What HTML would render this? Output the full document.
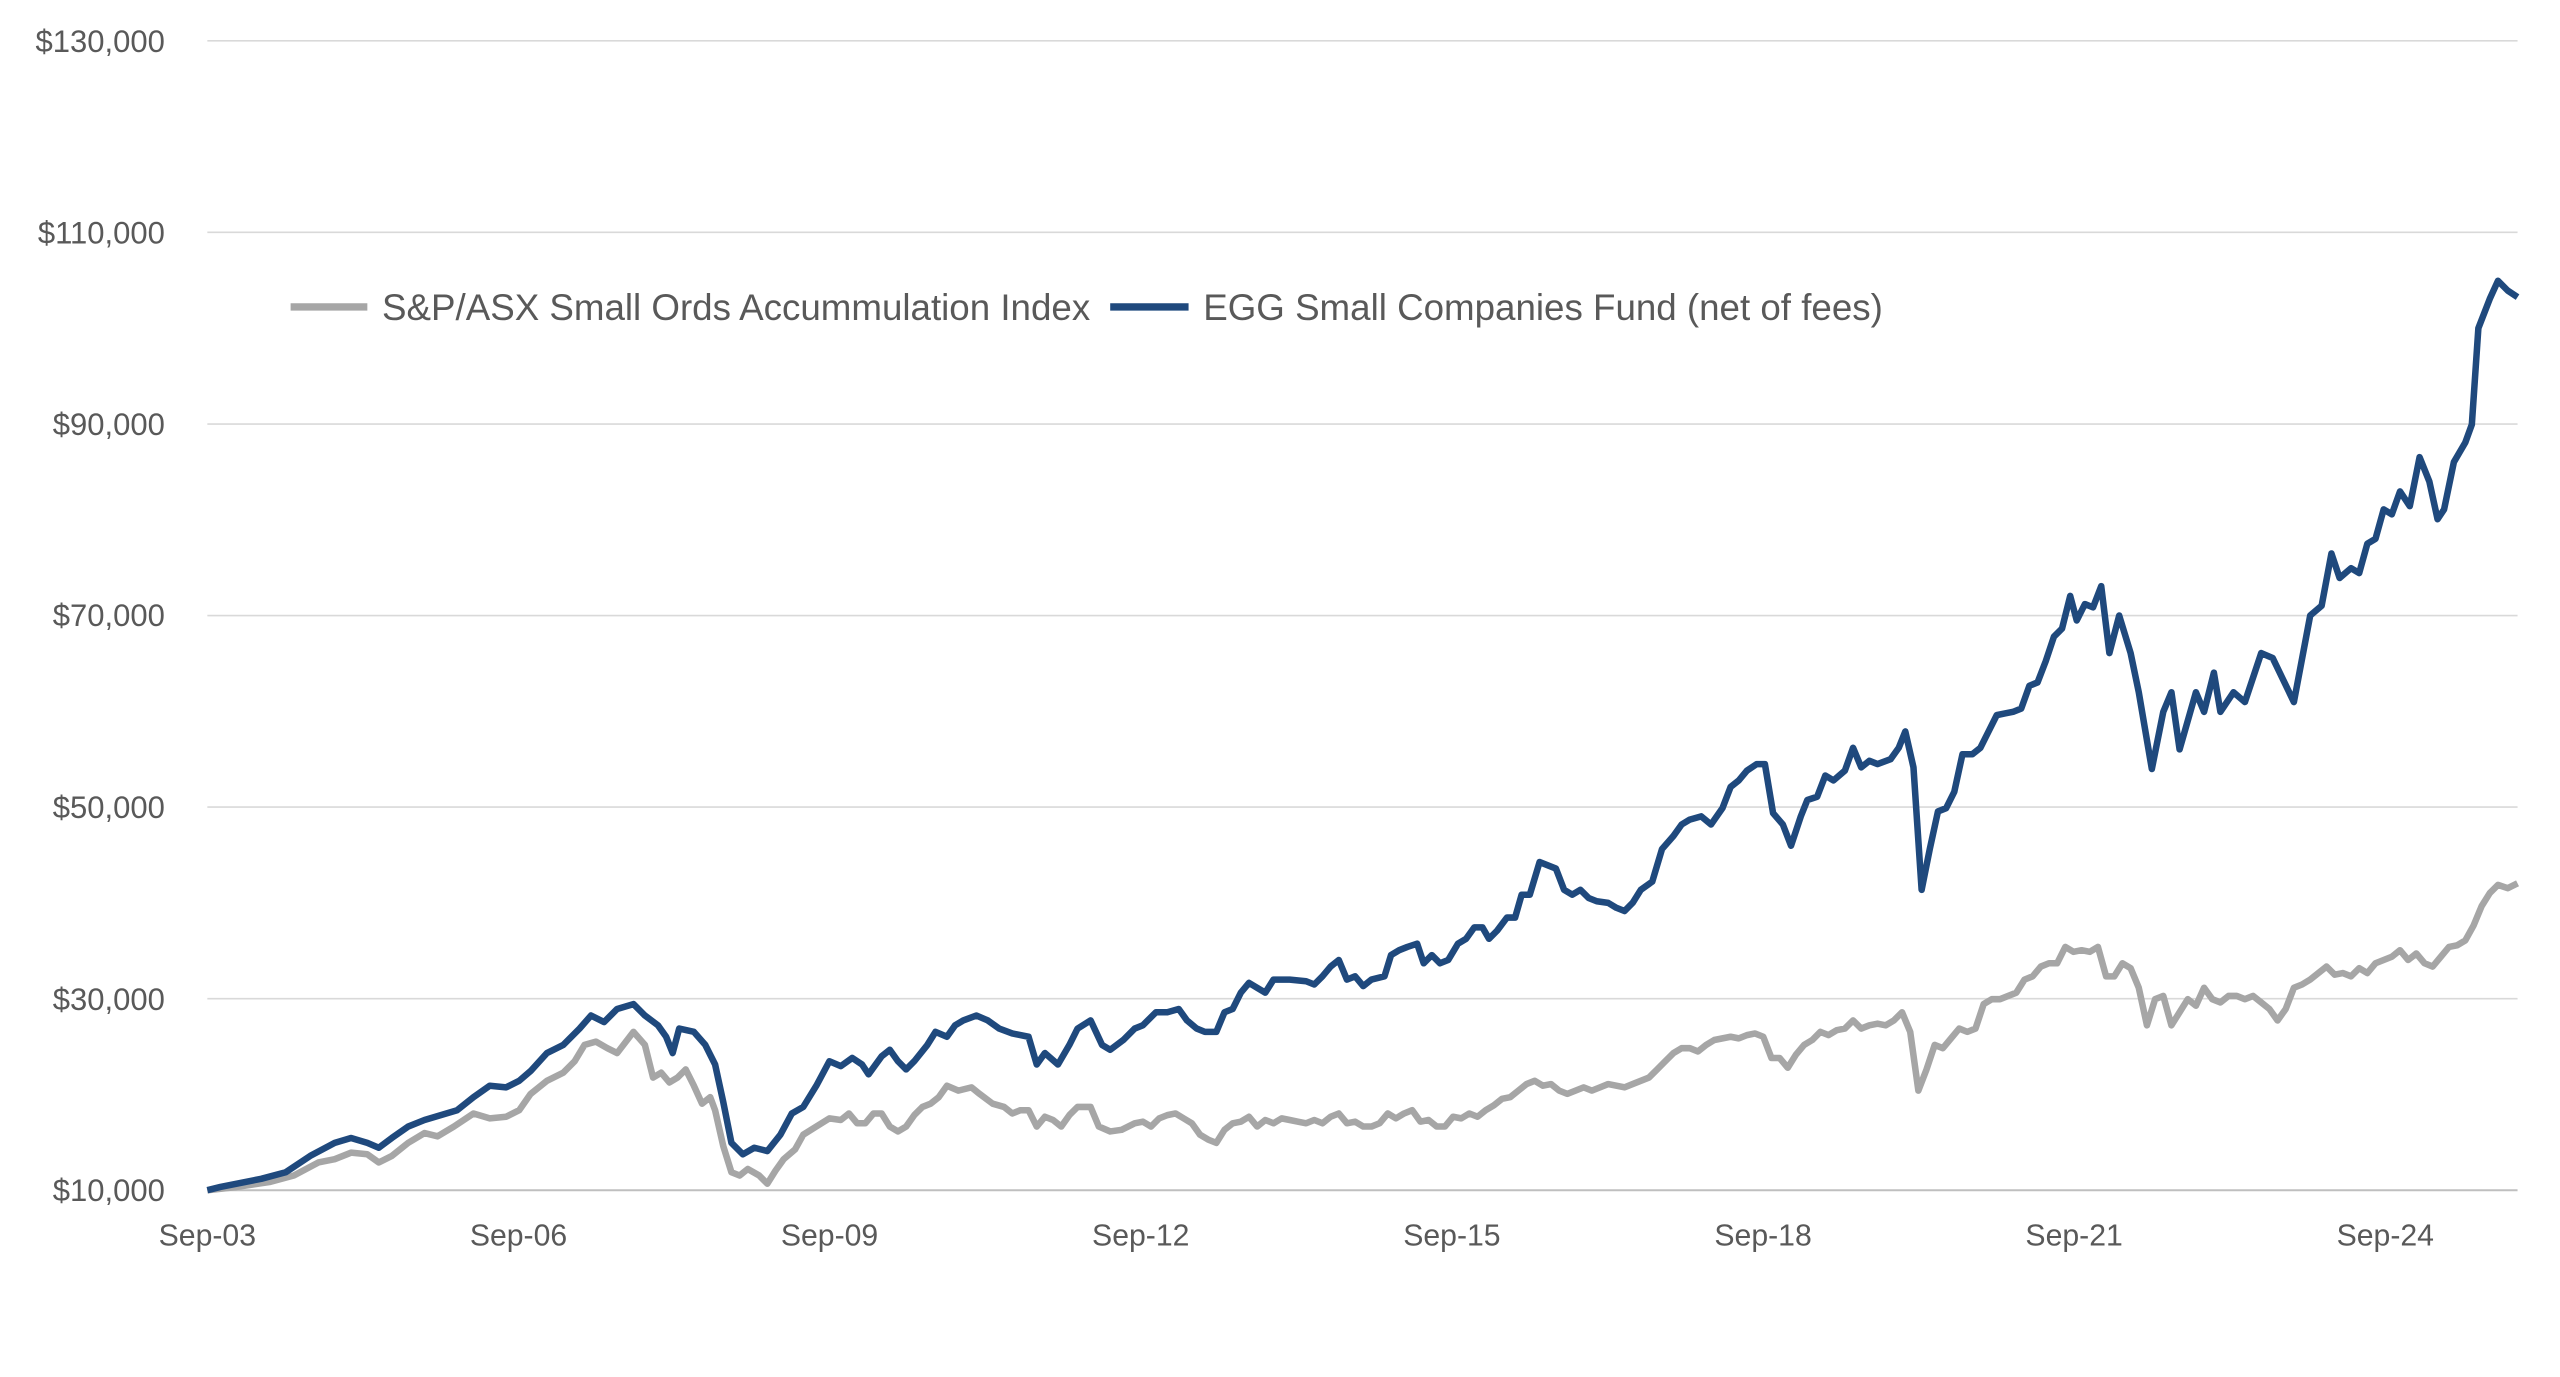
<!DOCTYPE html>
<html><head><meta charset="utf-8"><style>
html,body{margin:0;padding:0;background:#fff;}
svg{display:block;}
text{font-family:"Liberation Sans",Calibri,sans-serif;fill:#595959;}
</style></head><body>
<svg width="2560" height="1377" viewBox="0 0 1568 843.4" xmlns="http://www.w3.org/2000/svg">
<g stroke="#d9d9d9" stroke-width="1">
<line x1="127" x2="1542" y1="25" y2="25"/>
<line x1="127" x2="1542" y1="142.3" y2="142.3"/>
<line x1="127" x2="1542" y1="259.7" y2="259.7"/>
<line x1="127" x2="1542" y1="377" y2="377"/>
<line x1="127" x2="1542" y1="494.3" y2="494.3"/>
<line x1="127" x2="1542" y1="611.7" y2="611.7"/>
</g>
<line x1="127" x2="1542" y1="729" y2="729" stroke="#bfbfbf" stroke-width="1.2"/>
<g font-size="19" text-anchor="end">
<text x="101" y="32">$130,000</text>
<text x="101" y="149">$110,000</text>
<text x="101" y="266.5">$90,000</text>
<text x="101" y="383.5">$70,000</text>
<text x="101" y="501">$50,000</text>
<text x="101" y="618.5">$30,000</text>
<text x="101" y="735.5">$10,000</text>
</g>
<g font-size="18.5" text-anchor="middle">
<text x="127" y="763">Sep-03</text>
<text x="317.6" y="763">Sep-06</text>
<text x="508.1" y="763">Sep-09</text>
<text x="698.7" y="763">Sep-12</text>
<text x="889.3" y="763">Sep-15</text>
<text x="1079.9" y="763">Sep-18</text>
<text x="1270.4" y="763">Sep-21</text>
<text x="1461" y="763">Sep-24</text>
</g>
<line x1="178" x2="225" y1="188" y2="188" stroke="#a6a6a6" stroke-width="4.5"/>
<text x="234" y="196" font-size="22.5">S&amp;P/ASX Small Ords Accummulation Index</text>
<line x1="680" x2="728" y1="188" y2="188" stroke="#1f497d" stroke-width="4.5"/>
<text x="737" y="196" font-size="22.5">EGG Small Companies Fund (net of fees)</text>
<polyline fill="none" stroke="#a6a6a6" stroke-width="4" stroke-linejoin="round" points="127,729 145,727 165,724 180,720 195,712 205,710 215,706 225,707 232,712 240,708 250,700 260,694 268,696 278,690 290,682 300,685 310,684 318,680 325,670 335,662 345,657 352,650 358,640 365,638 372,642 378,645 388,632 395,640 400,660 405,657 410,663 415,660 420,655 425,665 430,676 435,672 438,680 443,702 448,718 453,720 458,716 465,720 470,725 475,717 480,710 487,704 492,695 500,690 508,685 515,686 520,682 525,688 530,688 535,682 540,682 545,690 550,693 555,690 560,683 565,678 570,676 575,672 580,665 587,668 595,666 600,670 608,676 615,678 620,682 625,680 630,680 635,690 640,684 645,686 650,690 655,683 660,678 668,678 673,690 680,693 687,692 695,688 700,687 705,690 710,685 715,683 720,682 725,685 730,688 735,695 740,698 745,700 750,692 755,688 760,687 765,684 770,690 775,686 780,688 785,685 790,686 795,687 800,688 805,686 810,688 815,684 820,682 825,688 830,687 835,690 840,690 845,688 850,682 855,685 860,682 865,680 870,687 875,686 880,690 885,690 890,684 895,685 900,682 905,684 910,680 915,677 920,673 925,672 930,668 935,664 940,662 945,665 950,664 955,668 960,670 965,668 970,666 975,668 980,666 985,664 990,665 995,666 1000,664 1005,662 1010,660 1015,655 1020,650 1025,645 1030,642 1035,642 1040,644 1045,640 1050,637 1055,636 1060,635 1065,636 1070,634 1075,633 1080,635 1085,648 1090,648 1095,654 1100,646 1105,640 1110,637 1115,632 1120,634 1125,631 1130,630 1135,625 1140,630 1145,628 1150,627 1155,628 1160,625 1165,620 1170,632 1175,668 1180,655 1185,640 1190,642 1195,636 1200,630 1205,632 1210,630 1215,615 1220,612 1225,612 1230,610 1235,608 1240,600 1245,598 1250,592 1255,590 1260,590 1265,580 1270,583 1275,582 1280,583 1285,580 1290,598 1295,598 1300,590 1305,593 1310,605 1315,628 1320,612 1325,610 1330,628 1335,620 1340,612 1345,616 1350,605 1355,612 1360,614 1365,610 1370,610 1375,612 1380,610 1385,614 1390,618 1395,625 1400,618 1405,605 1410,603 1415,600 1420,596 1425,592 1430,597 1435,596 1440,598 1445,593 1450,596 1455,590 1460,588 1465,586 1470,582 1475,588 1480,584 1485,590 1490,592 1495,586 1500,580 1505,579 1510,576 1515,567 1520,555 1525,547 1530,542 1536,544 1542,541"/>
<polyline fill="none" stroke="#1f497d" stroke-width="4" stroke-linejoin="round" points="127,729 135,727 145,725 160,722 175,718 190,708 205,700 215,697 225,700 232,703 240,697 250,690 260,686 270,683 280,680 290,672 300,665 310,666 318,662 325,656 335,645 345,640 355,630 362,622 370,626 378,618 388,615 395,622 403,628 408,635 412,645 416,630 425,632 432,640 438,652 443,675 448,700 455,707 462,703 470,705 478,695 485,682 492,678 500,665 508,650 515,653 522,648 528,652 532,658 540,647 545,643 550,650 555,655 560,650 568,640 573,632 580,635 585,628 590,625 598,622 605,625 612,630 620,633 630,635 635,652 640,645 648,652 655,640 660,630 668,625 675,640 680,643 688,637 695,630 700,628 708,620 715,620 722,618 727,625 733,630 738,632 745,632 750,620 755,618 760,608 765,602 770,605 775,608 780,600 790,600 800,601 805,603 810,598 815,592 820,588 825,600 830,598 835,604 840,600 848,598 852,585 857,582 862,580 868,578 872,590 877,585 882,590 887,588 893,578 898,575 903,568 908,568 912,575 917,570 923,562 928,562 932,548 937,548 943,528 948,530 953,532 958,545 963,548 968,545 973,550 978,552 985,553 990,556 995,558 1000,553 1005,545 1012,540 1018,520 1025,512 1030,505 1035,502 1042,500 1048,505 1055,495 1060,482 1065,478 1070,472 1076,468 1081,468 1086,498 1092,505 1097,518 1103,500 1107,490 1113,488 1118,475 1123,478 1130,472 1135,458 1140,470 1145,466 1150,468 1158,465 1163,458 1167,448 1172,470 1177,545 1182,520 1187,497 1192,495 1197,485 1202,462 1208,462 1213,458 1218,448 1223,438 1228,437 1233,436 1238,434 1243,420 1248,418 1253,405 1258,390 1263,385 1268,365 1272,380 1277,370 1282,372 1287,359 1292,400 1298,377 1305,400 1310,424 1318,471 1325,436 1330,424 1335,459 1345,424 1350,436 1356,412 1360,436 1368,424 1375,430 1385,400 1392,403 1405,430 1415,377 1422,371 1428,339 1433,354 1440,348 1445,351 1450,333 1455,330 1460,312 1465,315 1470,301 1476,310 1482,280 1488,295 1493,318 1497,312 1503,283 1510,271 1514,260 1518,201 1525,183 1530,172 1536,178 1542,182"/>
</svg>
</body></html>
